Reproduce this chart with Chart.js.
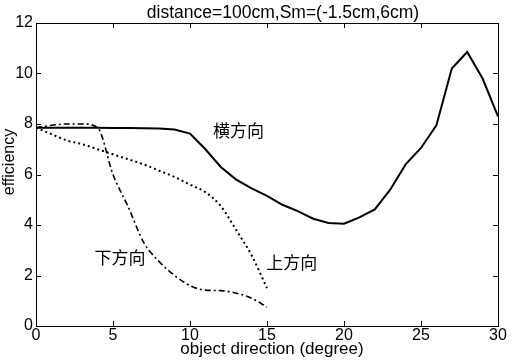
<!DOCTYPE html>
<html>
<head>
<meta charset="utf-8">
<script src="https://cdn.jsdelivr.net/npm/chart.js@4"></script>
<style>
  html, body { margin: 0; padding: 0; background: #fff; }
  #wrap { width: 512px; height: 361px; }
</style>
</head>
<body>
<div id="wrap"><canvas id="effChart" width="512" height="361"></canvas></div>
<script>
// object direction (degree)
const degrees = [0,1,2,3,4,5,6,7,8,9,10,11,12,13,14,15,16,17,18,19,20,21,22,23,24,25,26,27,28,29,30];
// 横方向 (solid)
const horizontal = [7.85,7.85,7.85,7.85,7.85,7.84,7.84,7.83,7.82,7.78,7.62,7.0,6.3,5.8,5.45,5.15,4.8,4.55,4.25,4.08,4.05,4.3,4.62,5.4,6.4,7.05,7.95,10.2,10.85,9.8,8.3];
// 上方向 (dotted)
const upward = [7.85,7.6,7.35,7.2,7.0,6.8,6.6,6.4,6.15,5.9,5.6,5.3,4.75,3.8,2.8,1.5];
// 下方向 (dash-dot)
const downward = [7.85,7.95,8.0,8.0,7.85,6.0,4.7,3.3,2.55,2.0,1.6,1.42,1.4,1.3,1.1,0.75];

const xTicks = [0,5,10,15,20,25,30];
const yTicks = [0,2,4,6,8,10,12];

const chartTitle = 'distance=100cm,Sm=(-1.5cm,6cm)';
const xTitle = 'object direction (degree)';
const yTitle = 'efficiency';

const curveLabels = [
    { text: '横方向', x: 11.5, y: 7.76 },
    { text: '上方向', x: 14.95, y: 2.5 },
    { text: '下方向', x: 3.8, y: 2.7 }
];

function toPoints(vals) {
    return vals.map((v, i) => ({ x: degrees[i], y: v }));
}

const latin = '"Liberation Sans", Arial, sans-serif';

// frame, inward ticks, titles and curve names
const framePlugin = {
    id: 'frame',
    afterDraw(chart) {
        const ctx = chart.ctx;
        const a = chart.chartArea;
        const xs = chart.scales.x, ys = chart.scales.y;
        ctx.save();
        ctx.strokeStyle = '#000';
        ctx.lineWidth = 1;
        ctx.strokeRect(a.left + 0.5, a.top + 0.5, a.right - a.left, a.bottom - a.top);
        ctx.beginPath();
        xTicks.forEach(t => {
            const px = Math.round(xs.getPixelForValue(t)) + 0.5;
            ctx.moveTo(px, a.bottom); ctx.lineTo(px, a.bottom - 5);
            ctx.moveTo(px, a.top); ctx.lineTo(px, a.top + 5);
        });
        yTicks.forEach(t => {
            const py = Math.round(ys.getPixelForValue(t)) + 0.5;
            ctx.moveTo(a.left, py); ctx.lineTo(a.left + 5, py);
            ctx.moveTo(a.right, py); ctx.lineTo(a.right - 5, py);
        });
        ctx.stroke();

        ctx.fillStyle = '#000';
        ctx.textAlign = 'center';
        ctx.font = '17.5px ' + latin;
        ctx.textBaseline = 'alphabetic';
        ctx.fillText(chartTitle, 283, 18);

        ctx.font = '17px ' + latin;
        ctx.textBaseline = 'middle';
        ctx.fillText(xTitle, 272, 349);
        ctx.save();
        ctx.translate(10, 162);
        ctx.rotate(-Math.PI / 2);
        ctx.font = '16px ' + latin;
        ctx.fillText(yTitle, 0, 0);
        ctx.restore();

        ctx.font = '17px "Noto Sans CJK SC", sans-serif';
        ctx.textAlign = 'left';
        curveLabels.forEach(l => {
            ctx.fillText(l.text, xs.getPixelForValue(l.x), ys.getPixelForValue(l.y));
        });
        ctx.restore();
    }
};

new Chart(document.getElementById('effChart'), {
    type: 'line',
    data: {
        datasets: [{
            label: '横方向',
            data: toPoints(horizontal),
            borderColor: '#000',
            borderWidth: 2,
            pointRadius: 0,
            tension: 0
        },
        {
            label: '上方向',
            data: toPoints(upward),
            borderColor: '#000',
            borderWidth: 2,
            borderDash: [2, 3],
            pointRadius: 0,
            cubicInterpolationMode: 'monotone'
        },
        {
            label: '下方向',
            data: toPoints(downward),
            borderColor: '#000',
            borderWidth: 1.6,
            borderDash: [6, 3, 2, 3],
            pointRadius: 0,
            cubicInterpolationMode: 'monotone'
        }]
    },
    options: {
        responsive: false,
        animation: false,
        layout: { padding: { left: 0, right: 14, top: 23, bottom: 0 } },
        plugins: {
            legend: { display: false },
            tooltip: { enabled: false },
            title: { display: false }
        },
        scales: {
            x: {
                type: 'linear',
                min: 0,
                max: 30,
                afterBuildTicks: s => { s.ticks = xTicks.map(v => ({ value: v })); },
                afterFit: s => { s.height = 35; },
                grid: { display: false, drawTicks: false },
                border: { display: false },
                ticks: {
                    color: '#000',
                    padding: 0,
                    maxRotation: 0,
                    font: { family: latin, size: 16 }
                }
            },
            y: {
                min: 0,
                max: 12,
                afterBuildTicks: s => { s.ticks = yTicks.map(v => ({ value: v })); },
                afterFit: s => { s.width = 36; },
                grid: { display: false, drawTicks: false },
                border: { display: false },
                ticks: {
                    color: '#000',
                    padding: 3,
                    font: { family: latin, size: 16 }
                }
            }
        }
    },
    plugins: [framePlugin]
});
</script>
</body>
</html>
